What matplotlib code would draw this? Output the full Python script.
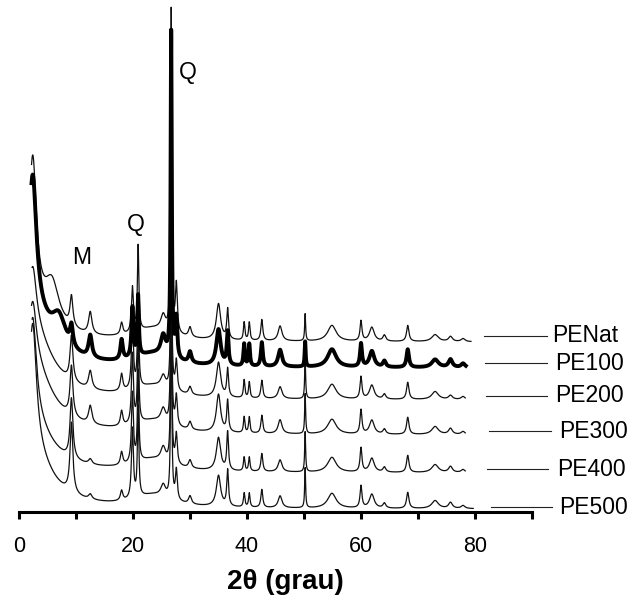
import numpy as np
import matplotlib
matplotlib.use("Agg")
import matplotlib.pyplot as plt

plt.rcParams['font.family'] = ['Liberation Sans', 'DejaVu Sans']

# sample names, top to bottom
samples = ["PENat", "PE100", "PE200", "PE300", "PE400", "PE500"]

# baseline level of each pattern (intensity offset, a.u.)
baselines = [170, 144, 112, 77, 39, 3]

# 2theta range measured for each pattern
start_2t = [2.2, 2.2, 2.3, 2.2, 2.3, 2.2]
end_2t = [79.3, 78.4, 78.3, 78.3, 78.3, 79.7]

# reflections: position (deg) and half width (deg)
peak_pos = [2.4, 2.4, 5.8, 7.0, 9.2, 12.5, 18.0, 19.9, 20.9, 23.5, 25.3, 26.7,
            27.6, 30.0, 35.0, 36.6, 39.5, 40.4, 42.6, 45.8, 50.2, 54.9, 60.0,
            61.9, 64.1, 68.2, 73.0, 75.7, 77.9]
peak_hw = [0.8, 4.0, 1.5, 1.5, 0.3, 0.35, 0.25, 0.2, 0.15, 4.0, 0.5, 0.12,
           0.2, 0.3, 0.45, 0.18, 0.15, 0.15, 0.2, 0.4, 0.1, 0.9, 0.2,
           0.5, 0.3, 0.25, 0.7, 0.4, 0.4]

# peak heights above baseline for every sample
h_penat = [150, 30, 40, 0, 30, 22, 12, 45, 85, 12, 15, 322, 48, 10, 36, 30,
           18, 18, 21, 15, 27, 16, 20, 14, 6, 16, 7, 5, 3]
h_pe100 = [140, 50, 0, 30, 20, 22, 20, 50, 60, 12, 20, 325, 40, 11, 36, 33,
           22, 22, 24, 17, 25, 18, 23, 16, 6, 18, 8, 8, 4]
h_pe200 = [63, 70, 0, 0, 45, 18, 17, 70, 90, 12, 12, 200, 30, 8, 35, 28,
           18, 16, 18, 12, 40, 15, 22, 14, 5, 17, 8, 4, 3]
h_pe300 = [63, 70, 0, 0, 50, 18, 15, 70, 90, 12, 14, 200, 30, 8, 38, 31,
           16, 16, 18, 14, 40, 15, 24, 14, 5, 17, 8, 6, 3]
h_pe400 = [105, 50, 0, 0, 60, 5, 13, 70, 90, 12, 14, 200, 30, 8, 33, 38,
           14, 14, 18, 12, 40, 15, 24, 14, 5, 17, 8, 6, 3]
h_pe500 = [130, 55, 0, 0, 70, 5, 10, 70, 90, 12, 12, 200, 30, 8, 31, 36,
           14, 14, 18, 12, 40, 15, 22, 14, 5, 16, 8, 6, 3]
heights = [h_penat, h_pe100, h_pe200, h_pe300, h_pe400, h_pe500]

# phase labels
phase_txt = ["M", "Q", "Q"]
phase_x = [11.05, 20.5, 29.6]
phase_y = [254, 288, 440]


def pattern(x, base, h):
    y = np.full_like(x, float(base))
    for p, w, a in zip(peak_pos, peak_hw, h):
        y += a / (1 + ((x - p) / w) ** 2)
    return y


fig = plt.figure(figsize=(6.41, 6.02), dpi=100)
ax = fig.add_axes([19 / 641, 90 / 602, 513 / 641, 512 / 602])

for i, name in enumerate(samples):
    x = np.arange(start_2t[i], end_2t[i], 0.01)
    y = pattern(x, baselines[i], heights[i])
    if name == "PE100":
        ax.plot(x, y, color='black', lw=2.8, zorder=3)
    else:
        ax.plot(x, y, color='#111111', lw=0.9, zorder=2)

# sample labels on the right, with leader lines
lab_y = [176, 149, 116, 81, 43, 5]
lab_x0 = [81.6, 81.75, 81.9, 82.5, 82.1, 82.8]
lab_x1 = [92.6, 92.6, 92.6, 93.3, 92.8, 93.5]
lab_tx = [93.5, 94.0, 94.0, 94.7, 94.4, 94.7]
for name, yy, a, b, t in zip(samples, lab_y, lab_x0, lab_x1, lab_tx):
    ax.plot([a, b], [yy, yy], color='#222222', lw=0.8, clip_on=False)
    ax.text(t, yy, name, fontsize=16.5, va='center', ha='left')

for t, xx, yy in zip(phase_txt, phase_x, phase_y):
    ax.text(xx, yy, t, fontsize=16.5, ha='center', va='center')

ax.set_xlim(0, 90)
ax.set_ylim(0, 512)
for s in ['top', 'right', 'left']:
    ax.spines[s].set_visible(False)
ax.spines['bottom'].set_linewidth(2.2)
ax.set_yticks([])
ax.set_xticks([0, 20, 40, 60, 80])
ax.set_xticks([10, 30, 50, 70, 90], minor=True)
ax.tick_params(axis='x', which='both', direction='out', length=5, width=2.2,
               labelsize=15.5, pad=12)
ax.set_xlabel("2θ (grau)", fontsize=20, fontweight='bold', labelpad=9)
ax.xaxis.label.set_x((285 - 19) / 513)
ax.patch.set_visible(False)

fig.savefig("out.png", dpi=100)
